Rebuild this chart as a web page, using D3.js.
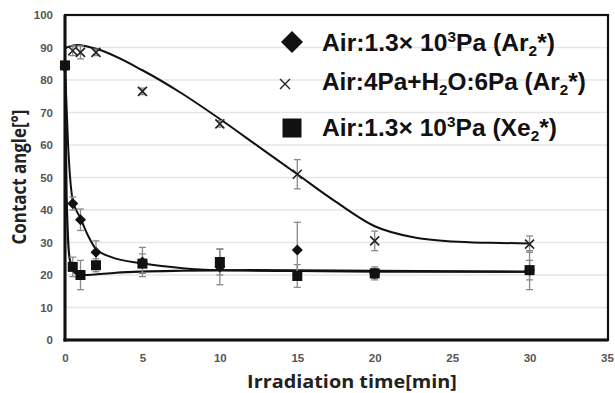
<!DOCTYPE html>
<html><head><meta charset="utf-8">
<script src="https://cdn.jsdelivr.net/npm/d3@7"></script>
<style>
body{margin:0;background:#fff;}
svg{display:block;font-family:"Liberation Sans",Arial,sans-serif;}
</style></head>
<body><svg id="c" width="615" height="393"></svg>
<script>
// ---- data ----
const xTicks = [0,5,10,15,20,25,30,35];
const yTicks = [0,10,20,30,40,50,60,70,80,90,100];
const gridValues = [10,20,30,40,50,60,70,80,90];

const diamondT = [0,0.5,1,2,5,10,15,20,30];
const diamondV = [84,42,37,27,24,22.5,27.7,20.5,21.5];
const diamondErr = [0,2,3.3,3.5,4.5,5.5,8.5,2,3];

const crossT = [0.5,1,2,5,10,15,20,30];
const crossV = [89,88.5,88.5,76.5,66.5,51,30.5,29.5];
const crossErr = [1.5,2,1,1,1,4.5,3,2.5];

const squareT = [0,0.5,1,2,5,10,15,20,30];
const squareV = [84.5,22.5,20,23,23.5,24,19.7,20.5,21.5];
const squareErr = [0,3,4.5,2,3,4,3.5,1.5,6];

// fitted curves
const fitCrossT = [0,0.8,2.2,5,7.5,10,12.5,15,17.5,20,22.5,25,27.5,30];
const fitCrossV = [89.8,90.8,89.3,83,76,68,59.5,51,42.5,35,31.6,30.3,29.9,29.7];
const fitDiamondT = [0,0.2,0.5,1,1.5,2,3,5,7.6,10,15,20,30];
const fitDiamondV = [84,60,43,37.5,32,28,25.5,23.6,22.1,21.5,21.2,21,21];
const fitSquareT = [0,0.1,0.3,0.65,1.2,3.3,7.6,12,20,30];
const fitSquareV = [84,45,25,20.6,20,20.7,21.3,21.5,21.3,21];

// ---- layout ----
const svg = d3.select("#c");
const L = 65, R = 607, T = 15, B = 340;
const x = d3.scaleLinear().domain([0,35]).range([L,R]);
const y = d3.scaleLinear().domain([0,100]).range([B,T]);

// gridlines
svg.append("g").selectAll("line").data(gridValues).join("line")
  .attr("x1", L).attr("x2", R).attr("y1", d=>y(d)).attr("y2", d=>y(d))
  .attr("stroke", "#e6e6e6").attr("stroke-width", 1.6);

// axes (labels only)
const ax = svg.append("g").attr("transform",`translate(0,${B})`)
  .call(d3.axisBottom(x).tickValues(xTicks).tickSize(0).tickPadding(14).tickFormat(d3.format("d")));
const ay = svg.append("g").attr("transform",`translate(${L},0)`)
  .call(d3.axisLeft(y).tickValues(yTicks).tickSize(0).tickPadding(12).tickFormat(d3.format("d")));
[ax,ay].forEach(a=>{
  a.select(".domain").remove();
  a.selectAll("text").attr("font-size",11.5).attr("font-weight","bold")
   .attr("fill","#555").attr("font-family","'Liberation Sans',Arial,sans-serif");
});

// frame
svg.append("rect").attr("x",L).attr("y",T).attr("width",R-L+1).attr("height",B-T)
  .attr("fill","none").attr("stroke","#111").attr("stroke-width",2.2);
svg.append("line").attr("x1",L).attr("x2",L).attr("y1",T).attr("y2",B+1.5)
  .attr("stroke","#111").attr("stroke-width",3);
svg.append("line").attr("x1",L-1.5).attr("x2",R+1).attr("y1",B).attr("y2",B)
  .attr("stroke","#111").attr("stroke-width",3);

// axis titles
function fitText(sel, width){
  const w = sel.node().getBBox().width;
  return width / w;
}
const xt = svg.append("g");
const xtText = xt.append("text").attr("font-size",18).attr("font-weight","bold")
  .attr("fill","#222").attr("font-family","'Open Sans','Noto Sans',sans-serif")
  .attr("text-anchor","middle").text("Irradiation time[min]");
xt.attr("transform",`translate(352,388) scale(${fitText(xtText,210)},1)`);

const yt = svg.append("g");
const ytText = yt.append("text").attr("font-size",20).attr("font-weight","bold")
  .attr("fill","#222").attr("font-family","'Open Sans','Noto Sans',sans-serif")
  .attr("text-anchor","middle").text("Contact angle[°]");
yt.attr("transform",`translate(26,177) rotate(-90) scale(${fitText(ytText,135)},1)`);

// fit curves
const line = d3.line().x(d=>x(d[0])).y(d=>y(d[1])).curve(d3.curveMonotoneX);
const plot = svg.append("g");
plot.append("path").attr("d", line(d3.zip(fitCrossT,fitCrossV)))
  .attr("fill","none").attr("stroke","#111").attr("stroke-width",2);
plot.append("path").attr("d", line(d3.zip(fitDiamondT,fitDiamondV)))
  .attr("fill","none").attr("stroke","#111").attr("stroke-width",2);
plot.append("path").attr("d", line(d3.zip(fitSquareT,fitSquareV)))
  .attr("fill","none").attr("stroke","#111").attr("stroke-width",2.2);

// error bars
function errBars(ts, vs, es){
  const g = plot.append("g").attr("stroke","#8a8a8a").attr("stroke-width",1.3);
  ts.forEach((t,i)=>{
    if(!es[i]) return;
    const cx = x(t), y1 = y(vs[i]+es[i]), y2 = y(vs[i]-es[i]);
    g.append("line").attr("x1",cx).attr("x2",cx).attr("y1",y1).attr("y2",y2);
    g.append("line").attr("x1",cx-3.5).attr("x2",cx+3.5).attr("y1",y1).attr("y2",y1);
    g.append("line").attr("x1",cx-3.5).attr("x2",cx+3.5).attr("y1",y2).attr("y2",y2);
  });
}
errBars(crossT,crossV,crossErr);
errBars(diamondT,diamondV,diamondErr);
errBars(squareT,squareV,squareErr);

// markers
function diamond(g, cx, cy, r){
  g.append("path").attr("d",`M${cx},${cy-r}L${cx+r},${cy}L${cx},${cy+r}L${cx-r},${cy}Z`).attr("fill","#111");
}
function square(g, cx, cy, s){
  g.append("rect").attr("x",cx-s/2).attr("y",cy-s/2).attr("width",s).attr("height",s).attr("fill","#111");
}
function cross(g, cx, cy, r, w){
  g.append("path").attr("d",`M${cx-r},${cy-r}L${cx+r},${cy+r}M${cx-r},${cy+r}L${cx+r},${cy-r}`)
   .attr("stroke","#222").attr("stroke-width",w).attr("fill","none");
}
const mk = plot.append("g");
crossT.forEach((t,i)=>cross(mk, x(t), y(crossV[i]), 4.5, 1.6));
diamondT.forEach((t,i)=>diamond(mk, x(t), y(diamondV[i]), 5.5));
squareT.forEach((t,i)=>square(mk, x(t), y(squareV[i]), 10));

// legend
const leg = svg.append("g");
diamond(leg, 292, 42, 11);
cross(leg, 285, 84, 5, 1.4);
square(leg, 292, 128, 19);

function legendText(bx, by, width, parts){
  const g = leg.append("g");
  const t = g.append("text").attr("font-size",24).attr("font-weight","bold").attr("fill","#111")
    .attr("font-family","'Liberation Sans',Arial,sans-serif");
  parts.forEach(p=>{
    const ts = t.append("tspan").text(p[0]);
    if(p[1]==="sup") ts.attr("font-size",15).attr("dy",-9);
    if(p[1]==="sub") ts.attr("font-size",15).attr("dy",5);
    if(p[1]==="back") ts.attr("dy",p[2]);
  });
  g.attr("transform",`translate(${bx},${by}) scale(${fitText(t,width)},1)`);
}
legendText(322, 51, 233, [["Air:1.3× 10"],["3","sup"],["Pa (Ar","back",9],["2","sub"],["*)","back",-5]]);
legendText(322, 90, 264, [["Air:4Pa+H"],["2","sub"],["O:6Pa (Ar","back",-5],["2","sub"],["*)","back",-5]]);
legendText(322, 136, 235, [["Air:1.3× 10"],["3","sup"],["Pa (Xe","back",9],["2","sub"],["*)","back",-5]]);
</script></body></html>
